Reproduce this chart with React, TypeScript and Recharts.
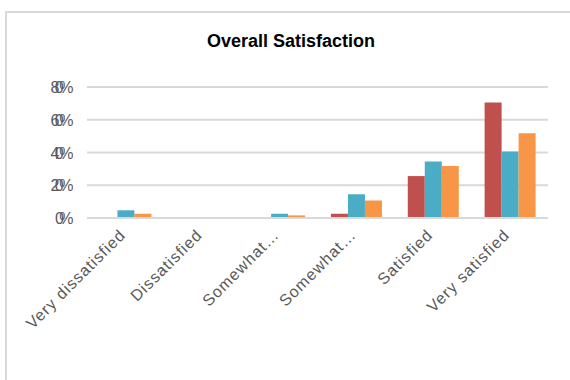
import React from 'react';
import { BarChart, Bar, XAxis, YAxis, CartesianGrid } from 'recharts';

const categories = ['Very dissatisfied', 'Dissatisfied', 'Somewhat…', 'Somewhat…', 'Satisfied', 'Very satisfied'];
const seriesA = [0, 0, 0, 0.026, 0.256, 0.705];
const seriesB = [0.047, 0.005, 0.026, 0.145, 0.345, 0.406];
const seriesC = [0.026, 0.005, 0.016, 0.107, 0.317, 0.517];
const yTicks = [0, 0.2, 0.4, 0.6, 0.8];

const data = categories.map((c, i) => ({ name: c, key: i, a: seriesA[i], b: seriesB[i], c: seriesC[i] }));

const FONT = 'Liberation Sans, Arial, sans-serif';

const XTick = (props: any) => {
  const { x, y, payload } = props;
  return (
    <g transform={`translate(${x + 1},${y + 10})`}>
      <text transform="rotate(-45)" textAnchor="end" fontSize={16} letterSpacing={1} fill="#595959" fontFamily={FONT}>
        {categories[payload.value]}
      </text>
    </g>
  );
};

const YTick = (props: any) => {
  const { x, y, payload } = props;
  return (
    <text x={x} y={y} dx={-4} dy={6} textAnchor="end" fontSize={16} letterSpacing={-4.5} fill="#595959" fontFamily={FONT}>
      {`${Math.round(payload.value * 100)}%`}
    </text>
  );
};

export default function App() {
  return (
    <div style={{ position: 'absolute', left: 0, top: 0, width: 570, height: 380, overflow: 'hidden', background: '#fff' }}>
      <div style={{ position: 'absolute', left: 5, top: 11, width: 600, height: 400, border: '2px solid #d9d9d9', boxSizing: 'border-box' }} />
      <div style={{ position: 'absolute', left: -8, top: 31, width: 570, textAlign: 'center', fontFamily: FONT, fontWeight: 'bold', fontSize: 18, color: '#000', paddingLeft: 14 }}>
        Overall Satisfaction
      </div>
      <div style={{ position: 'absolute', left: 0, top: 0 }}>
        <BarChart width={570} height={380} data={data} margin={{ top: 87, right: 22, bottom: 62, left: 0 }} barCategoryGap="17.5%" barGap={0}>
          <CartesianGrid vertical={false} stroke="#d9d9d9" strokeWidth={2} />
          <XAxis dataKey="key" type="category" height={100} tick={<XTick />} tickLine={false} axisLine={{ stroke: '#d9d9d9', strokeWidth: 2 }} interval={0} />
          <YAxis width={87} domain={[0, 0.8]} ticks={yTicks} tickLine={false} axisLine={false} tickMargin={8} tick={<YTick />} />
          <Bar dataKey="a" fill="#C0504D" isAnimationActive={false} />
          <Bar dataKey="b" fill="#4BACC6" isAnimationActive={false} />
          <Bar dataKey="c" fill="#F79646" isAnimationActive={false} />
        </BarChart>
      </div>
    </div>
  );
}
